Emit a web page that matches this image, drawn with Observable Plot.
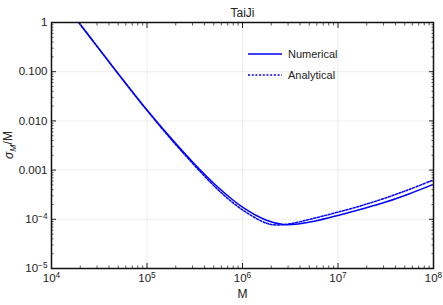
<!DOCTYPE html>
<html><head><meta charset="utf-8">
<script src="https://cdn.jsdelivr.net/npm/d3@7"></script>
<script src="https://cdn.jsdelivr.net/npm/@observablehq/plot@0.6"></script>
<style>
body{margin:0;background:#fff;}
svg{font-family:"Liberation Sans",Arial,sans-serif;}
</style>
</head><body><div id="chart"></div>
<script>
const title = "TaiJi";
const seriesNames = ["Numerical", "Analytical"];
const mNumerical = [1.0e4, 1.93e4, 3.16e4, 5.62e4, 1.0e5, 1.78e5, 3.16e5, 5.62e5, 1.0e6, 1.78e6, 2.69e6, 3.98e6, 5.62e6, 1.0e7, 1.78e7, 3.16e7, 5.62e7, 1.0e8];
const sigmaNumerical = [5.25, 1.0, 0.288, 0.0676, 0.0166, 0.00447, 0.00132, 4.37e-4, 1.76e-4, 9.55e-5, 7.83e-5, 8.13e-5, 9.12e-5, 1.20e-4, 1.62e-4, 2.24e-4, 3.31e-4, 5.13e-4];
const mAnalytical = [1.0e4, 1.93e4, 3.16e4, 5.62e4, 1.0e5, 1.78e5, 3.16e5, 5.62e5, 1.0e6, 1.78e6, 2.24e6, 3.16e6, 5.62e6, 1.0e7, 1.78e7, 3.16e7, 5.62e7, 1.0e8];
const sigmaAnalytical = [5.25, 1.0, 0.288, 0.0676, 0.0164, 0.00427, 0.00123, 3.89e-4, 1.55e-4, 8.32e-5, 7.67e-5, 8.13e-5, 1.05e-4, 1.40e-4, 1.91e-4, 2.72e-4, 4.07e-4, 6.31e-4];
const xTicks = [1e4, 1e5, 1e6, 1e7, 1e8];
const xTickLabels = ["10^4", "10^5", "10^6", "10^7", "10^8"];
const yTicks = [1, 0.1, 0.01, 0.001, 1e-4, 1e-5];
const yTickLabels = ["1", "0.100", "0.010", "0.001", "10^-4", "10^-5"];
const xLabel = "M";

const numerical = mNumerical.map((m, i) => ({M: m, s: sigmaNumerical[i]}));
const analytical = mAnalytical.map((m, i) => ({M: m, s: sigmaAnalytical[i]}));

function minorTicks(major) {
  const out = [];
  const lo = d3.min(major), hi = d3.max(major);
  for (const t of major) for (let k = 2; k <= 9; k++) { const v = t * k; if (v > lo && v < hi) out.push(v); }
  return out;
}
const xMinor = minorTicks(xTicks);
const yMinor = minorTicks(yTicks);

const blue = "#0000ff";
const ink = "#222";

const plot = Plot.plot({
  width: 443, height: 305,
  marginLeft: 51, marginRight: 10, marginTop: 22, marginBottom: 37,
  style: {fontFamily: "Liberation Sans, Arial, sans-serif", fontSize: "11.5px", color: ink, background: "#fff"},
  x: {type: "log", domain: [1e4, 1e8]},
  y: {type: "log", domain: [1e-5, 1]},
  marks: [
    Plot.gridX(xTicks, {stroke: "#000", strokeOpacity: 0.07}),
    Plot.gridY(yTicks, {stroke: "#000", strokeOpacity: 0.07}),
    Plot.line(numerical, {x: "M", y: "s", stroke: blue, strokeWidth: 1.5, curve: "catmull-rom", clip: true}),
    Plot.line(analytical, {x: "M", y: "s", stroke: blue, strokeWidth: 1.5, strokeDasharray: "2,1.7", curve: "catmull-rom", clip: true}),
    Plot.axisX(xMinor, {anchor: "bottom", tickSize: -2.5, tickFormat: () => "", label: null, stroke: "#555"}),
    Plot.axisX(xMinor, {anchor: "top", tickSize: -2.5, tickFormat: () => "", label: null, stroke: "#555"}),
    Plot.axisY(yMinor, {anchor: "left", tickSize: -2.5, tickFormat: () => "", label: null, stroke: "#555"}),
    Plot.axisY(yMinor, {anchor: "right", tickSize: -2.5, tickFormat: () => "", label: null, stroke: "#555"}),
    Plot.axisX(xTicks, {anchor: "top", tickSize: -5, tickFormat: () => "", label: null}),
    Plot.axisY(yTicks, {anchor: "right", tickSize: -5, tickFormat: () => "", label: null}),
    Plot.axisX(xTicks, {anchor: "bottom", tickSize: -5, tickFormat: () => "", label: null}),
    Plot.axisY(yTicks, {anchor: "left", tickSize: -5, tickFormat: () => "", label: null}),
    Plot.axisX(xTicks, {anchor: "bottom", tickSize: 0, tickPadding: 5, tickFormat: d => xTickLabels[xTicks.indexOf(d)], label: null, fill: ink}),
    Plot.axisY(yTicks, {anchor: "left", tickSize: 0, tickPadding: 4, tickFormat: d => yTickLabels[yTicks.indexOf(d)], label: null, fill: ink}),
    Plot.frame({stroke: "#111", strokeWidth: 1.5}),
    Plot.text([title], {text: d => d, frameAnchor: "top", dy: -14.5, fontSize: 12, fill: ink}),
    Plot.text([xLabel], {text: d => d, frameAnchor: "bottom", dy: 29, fontSize: 12, fill: ink})
  ]
});

const svg = d3.select(plot);
// superscripts for "10^k" labels
svg.selectAll("text").each(function() {
  const t = d3.select(this);
  const tspans = t.selectAll("tspan");
  const targets = tspans.empty() ? [this] : tspans.nodes();
  for (const node of targets) {
    const s = node.textContent;
    if (s && s.includes("^")) {
      const [base, exp] = s.split("^");
      const n = d3.select(node);
      n.text(null);
      n.append("tspan").text(base);
      n.append("tspan").attr("dy", "-0.5em").attr("font-size", "0.72em").text(exp.replace("-", "\u2212"));
    }
  }
});

// y-axis label σ_M/M
const yl = svg.append("text")
  .attr("transform", "translate(13,145) rotate(-90)")
  .attr("text-anchor", "middle")
  .attr("font-size", 12)
  .attr("fill", ink);
yl.append("tspan").attr("font-style", "italic").text("σ");
yl.append("tspan").attr("font-size", "0.72em").attr("font-style", "italic").attr("dy", "0.3em").text("M");
yl.append("tspan").attr("dy", "-0.3em").text("/M");

// legend
const lg = svg.append("g").attr("font-size", 11).attr("fill", ink).attr("text-anchor", "start");
const legendRows = [{name: seriesNames[0], dash: null}, {name: seriesNames[1], dash: "2,1.7"}];
legendRows.forEach((r, i) => {
  const y = 54 + i * 21;
  lg.append("line").attr("x1", 248).attr("x2", 282).attr("y1", y).attr("y2", y)
    .attr("stroke", blue).attr("stroke-width", 1.5).attr("stroke-dasharray", r.dash);
  lg.append("text").attr("x", 288).attr("y", y).attr("dy", "0.35em").attr("text-anchor", "start").text(r.name);
});

document.getElementById("chart").appendChild(plot);
</script>
</body></html>
